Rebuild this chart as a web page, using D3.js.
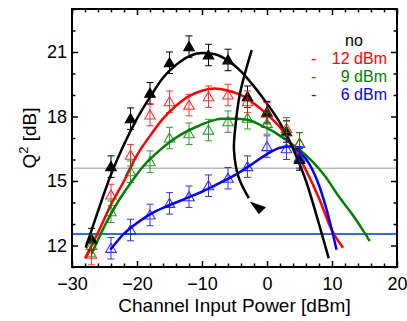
<!DOCTYPE html>
<html>
<head>
<meta charset="utf-8">
<script src="https://cdn.jsdelivr.net/npm/d3@7"></script>
<style>
body { margin: 0; background: #fff; }
svg { font-family: Arial, "Liberation Sans", sans-serif; }
.tick line { stroke: #000; stroke-width: 1.5; }
</style>
</head>
<body>
<script>
const MARGIN = {top: 9, right: 10, bottom: 54, left: 72};
const W = 407, H = 321;
const PW = W - MARGIN.left - MARGIN.right;
const PH = H - MARGIN.top - MARGIN.bottom;

// measured points (channel input power in dBm)
const powers = [-27, -24, -21, -18, -15, -12, -9, -6, -3, 0, 3, 5];
const qNo  = [12.3, 15.67, 17.9, 19.08, 20.5, 21.25, 20.86, 20.63, 18.92, 18.2, 17.3, 16.0];
const q12  = [11.6, 14.35, 16.2, 18.07, 18.69, 18.53, 18.92, 19.0, 18.69, 18.15, 17.45, 16.75];
const q9   = [12.0, 13.57, 15.43, 15.9, 17.0, 17.2, 17.37, 17.76, 17.92, 17.68, 17.3, 16.75];
const q6   = [null, 11.87, 12.72, 13.42, 13.96, 14.27, 14.78, 15.13, 15.67, 16.6, 16.5, 16.1];
const errBar = 0.5;

// fitted curves as [power, Q2]
const fitNo = [[-27.9,11.9],[-26,13.6],[-24,15.3],[-22,16.7],[-20,17.9],[-18,18.9],[-16,19.8],[-14,20.4],[-12,20.8],[-10,20.95],[-8,20.9],[-6,20.6],[-4,20.1],[-2,19.4],[0,18.6],[2,17.7],[4,16.5],[6,15.0],[8,13.0],[9.5,11.4]];
const fit12 = [[-28,11.4],[-26,12.6],[-24,13.9],[-22,15.0],[-20,16.2],[-18,17.1],[-16,17.9],[-14,18.5],[-12,18.95],[-10,19.2],[-8,19.3],[-6,19.2],[-4,19.0],[-2,18.6],[0,18.1],[2,17.5],[4,16.6],[6,15.5],[8,14.2],[10,12.7],[11.7,11.9]];
const fit9 = [[-27,11.6],[-25,12.9],[-23,14.0],[-21,14.9],[-19,15.7],[-17,16.3],[-15,16.8],[-13,17.2],[-11,17.5],[-9,17.75],[-7,17.9],[-5,17.9],[-3,17.85],[-1,17.6],[1,17.3],[3,16.9],[5,16.45],[7,15.9],[9,15.2],[11,14.3],[13,13.5],[15,12.6],[15.8,12.2]];
const fit6 = [[-24.1,11.8],[-22,12.55],[-20,13.05],[-18,13.45],[-16,13.75],[-14,14.0],[-12,14.25],[-10,14.5],[-8,14.8],[-6,15.1],[-4,15.45],[-2,15.85],[0,16.25],[2,16.55],[3.5,16.6],[5,16.35],[6.5,15.8],[8,14.8],[9.5,13.3],[10.7,11.8]];
// optimum trajectory arrow
const arrowPath = [[-2.35,21.09],[-4.15,19.08],[-4.92,17.37],[-5.08,16.44],[-4.4,15.2],[-2.8,14.2]];
const arrowHead = [[-2.65,14.05],[-0.15,13.78],[-1.25,13.45]];

const grayLevel = 15.59;
const blueLevel = 12.53;

const xTicks = [-30, -20, -10, 0, 10, 20];
const yTicks = [12, 15, 18, 21];

const seriesNames = ["no", "- 12 dBm", "-   9 dBm", "-   6 dBm"];
const seriesColors = ["#000000", "#ff0000", "#008000", "#0000ff"];

const svg = d3.select("body").append("svg").attr("width", W).attr("height", H);
const g = svg.append("g").attr("transform", "translate(" + MARGIN.left + "," + MARGIN.top + ")");

const x = d3.scaleLinear().domain([-30, 20]).range([0, PW]);
const y = d3.scaleLinear().domain([11, 23]).range([PH, 0]);

// reference lines
g.append("line").attr("x1", 0).attr("x2", PW).attr("y1", y(grayLevel)).attr("y2", y(grayLevel))
	.style("stroke", "#b8b8b8").style("stroke-width", 1.5);
g.append("line").attr("x1", 0).attr("x2", PW).attr("y1", y(blueLevel)).attr("y2", y(blueLevel))
	.style("stroke", "#2f6bf0").style("stroke-width", 2);

// axes with inward ticks
const xMinor = d3.range(-30, 21, 2).filter(d => !xTicks.includes(d));
const yMinor = d3.range(11, 24, 1).filter(d => !yTicks.includes(d));

function addAxis(axisFn, scale, major, minor, transform, labels) {
	const a = g.append("g").attr("transform", transform)
		.call(axisFn(scale).tickValues(major).tickSize(-6).tickPadding(labels ? (axisFn === d3.axisBottom ? 10 : 5) : 0)
			.tickFormat(labels ? d3.format("d") : ""));
	a.select(".domain").remove();
	a.selectAll("text").style("font-size", "18px").style("fill", "#000");
	const b = g.append("g").attr("transform", transform)
		.call(axisFn(scale).tickValues(minor).tickSize(-3.5).tickFormat(""));
	b.select(".domain").remove();
}
addAxis(d3.axisBottom, x, xTicks, xMinor, "translate(0," + PH + ")", true);
addAxis(d3.axisTop, x, xTicks, xMinor, "translate(0,0)", false);
addAxis(d3.axisLeft, y, yTicks, yMinor, "translate(0,0)", true);
addAxis(d3.axisRight, y, yTicks, yMinor, "translate(" + PW + ",0)", false);

g.append("rect").attr("width", PW).attr("height", PH)
	.style("fill", "none").style("stroke", "#000").style("stroke-width", 2);

// fitted lines
const line = d3.line().x(d => x(d[0])).y(d => y(d[1])).curve(d3.curveMonotoneX);
const fits = [fit9, fit12, fit6, fitNo];
const fitColors = [seriesColors[2], seriesColors[1], seriesColors[3], seriesColors[0]];
g.append("g").selectAll("path").data(fits).join("path")
	.attr("d", d => line(d))
	.style("fill", "none")
	.style("stroke", (d, i) => fitColors[i])
	.style("stroke-width", 2.5);

// measured points with error bars
const tri = d3.symbol().type(d3.symbolTriangle).size(48);
const allSeries = [qNo, q12, q9, q6];
allSeries.forEach((vals, si) => {
	const pts = powers.map((p, i) => ({p: p, q: vals[i]})).filter(d => d.q !== null);
	const col = seriesColors[si];
	const grp = g.append("g").attr("opacity", si === 0 ? 1 : 0.8);
	const eb = grp.selectAll("g.eb").data(pts).join("g").attr("class", "eb");
	eb.append("line").attr("x1", d => x(d.p)).attr("x2", d => x(d.p))
		.attr("y1", d => y(d.q - errBar)).attr("y2", d => y(d.q + errBar));
	eb.append("line").attr("x1", d => x(d.p) - 3.5).attr("x2", d => x(d.p) + 3.5)
		.attr("y1", d => y(d.q + errBar)).attr("y2", d => y(d.q + errBar));
	eb.append("line").attr("x1", d => x(d.p) - 3.5).attr("x2", d => x(d.p) + 3.5)
		.attr("y1", d => y(d.q - errBar)).attr("y2", d => y(d.q - errBar));
	eb.selectAll("line").style("stroke", col).style("stroke-width", 1);
	grp.selectAll("path").data(pts).join("path")
		.attr("d", tri)
		.attr("transform", d => "translate(" + x(d.p) + "," + (y(d.q) + 1) + ")")
		.style("fill", si === 0 ? col : "none")
		.style("stroke", col)
		.style("stroke-width", 1.1);
});

// trajectory arrow
g.append("path")
	.attr("d", d3.line().x(d => x(d[0])).y(d => y(d[1])).curve(d3.curveCatmullRom)(arrowPath))
	.style("fill", "none").style("stroke", "#000").style("stroke-width", 2.5);
g.append("path")
	.attr("d", d3.line().x(d => x(d[0])).y(d => y(d[1]))(arrowHead) + "Z")
	.style("fill", "#000");

// legend
const legend = svg.append("g").style("font-size", "16px");
legend.append("text").attr("x", 354).attr("y", 46).attr("text-anchor", "middle")
	.style("fill", seriesColors[0]).text(seriesNames[0]);
[1, 2, 3].forEach((k, i) => {
	const parts = seriesNames[k].split(/\s+/);
	const row = legend.append("text").attr("y", 64 + i * 18).style("fill", seriesColors[k]);
	row.append("tspan").attr("x", 311).text(parts[0]);
	row.append("tspan").attr("x", 387).attr("text-anchor", "end").text(parts.slice(1).join(" "));
});

// axis titles
svg.append("text").attr("x", MARGIN.left + PW / 2).attr("y", 312).attr("text-anchor", "middle")
	.style("font-size", "19px").text("Channel Input Power [dBm]");
const yl = svg.append("text").attr("transform", "translate(36,138) rotate(-90)")
	.attr("text-anchor", "middle").style("font-size", "19px");
yl.append("tspan").text("Q");
yl.append("tspan").attr("dy", -8).style("font-size", "13px").text("2");
yl.append("tspan").attr("dy", 8).text(" [dB]");
</script>
</body>
</html>
